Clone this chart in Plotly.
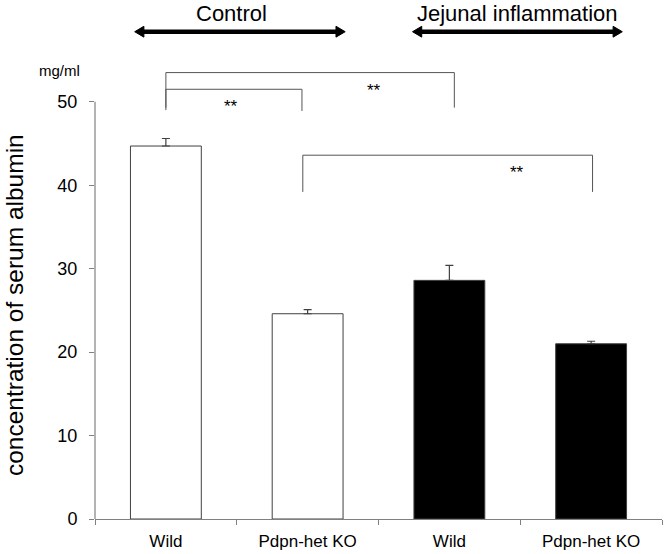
import plotly.graph_objects as go

# ---- data ----
categories = ["Wild", "Pdpn-het KO", "Wild", "Pdpn-het KO"]
values = [44.7, 24.6, 28.6, 21.0]
errors = [0.9, 0.5, 1.8, 0.3]
fill_colors = ["white", "white", "black", "black"]
y_ticks = [0, 10, 20, 30, 40, 50]

# significance brackets: (x_left, x_right, y_top, y_drop_left, y_drop_right, label_x, label_y)
brackets = [
    (0.0, 0.96, 51.5, 49.0, 48.9, 0.46, 49.4),
    (0.0, 2.035, 53.5, 49.3, 49.3, 1.47, 51.4),
    (0.966, 3.01, 43.6, 39.2, 39.2, 2.48, 41.5),
]
sig_label = "**"

# group headers: (text, x_left, x_right, text_x)
groups = [
    ("Control", -0.22, 1.265, 0.466),
    ("Jejunal inflammation", 1.74, 3.22, 2.48),
]
header_arrow_y = 58.4
header_text_y = 60.6

FONT = "Arial, Liberation Sans, sans-serif"
AX_COLOR = "#808080"
Y_TOP = 62.2

x_pos = list(range(len(categories)))

fig = go.Figure()
fig.add_trace(go.Bar(
    x=x_pos, y=values, width=0.5,
    marker=dict(color=fill_colors, line=dict(color="#404040", width=1)),
    error_y=dict(type="data", symmetric=False, array=errors,
                 arrayminus=[0] * len(errors), color="#404040",
                 thickness=1.2, width=4),
    showlegend=False,
))

shapes = []
annotations = []
for (xl, xr, yt, ydl, ydr, lx, ly) in brackets:
    shapes.append(dict(type="path", xref="x", yref="y",
                       path=f"M {xl} {ydl} L {xl} {yt} L {xr} {yt} L {xr} {ydr}",
                       line=dict(color="#555555", width=1)))
    annotations.append(dict(x=lx, y=ly, xref="x", yref="y", text=sig_label,
                            showarrow=False, xanchor="center", yanchor="middle",
                            font=dict(family=FONT, size=17, color="black")))

# header double arrows
head_len = 0.065   # in category units (~9px)
head_half = 0.65   # in y units (~5px)
for (txt, xl, xr, tx) in groups:
    shapes.append(dict(type="line", xref="x", yref="y",
                       x0=xl + head_len * 0.8, x1=xr - head_len * 0.8,
                       y0=header_arrow_y, y1=header_arrow_y,
                       line=dict(color="black", width=4.5)))
    shapes.append(dict(type="path", xref="x", yref="y",
                       path=(f"M {xl} {header_arrow_y} L {xl + head_len} {header_arrow_y + head_half} "
                             f"L {xl + head_len} {header_arrow_y - head_half} Z"),
                       fillcolor="black", line=dict(color="black", width=1)))
    shapes.append(dict(type="path", xref="x", yref="y",
                       path=(f"M {xr} {header_arrow_y} L {xr - head_len} {header_arrow_y + head_half} "
                             f"L {xr - head_len} {header_arrow_y - head_half} Z"),
                       fillcolor="black", line=dict(color="black", width=1)))
    annotations.append(dict(x=tx, y=header_text_y, xref="x", yref="y", text=txt,
                            showarrow=False, xanchor="center", yanchor="middle",
                            font=dict(family=FONT, size=22, color="black")))

# y axis line only from 0 to 50
shapes.append(dict(type="line", xref="paper", yref="y", x0=0, x1=0,
                   y0=y_ticks[0], y1=y_ticks[-1], line=dict(color=AX_COLOR, width=1.2)))

annotations.append(dict(x=-0.062, y=0.865, xref="paper", yref="paper", text="mg/ml",
                        showarrow=False, xanchor="center", yanchor="middle",
                        font=dict(family=FONT, size=15, color="black")))
annotations.append(dict(x=-0.143, y=0.412, xref="paper", yref="paper",
                        text="concentration of serum albumin", textangle=-90,
                        showarrow=False, xanchor="center", yanchor="middle",
                        font=dict(family=FONT, size=24.5, color="black")))

fig.update_layout(
    width=665, height=554,
    margin=dict(l=95, r=3, t=0, b=35),
    plot_bgcolor="white", paper_bgcolor="white",
    shapes=shapes, annotations=annotations,
    font=dict(family=FONT, color="black"),
    bargap=0.5,
)
fig.update_xaxes(
    range=[-0.5, len(categories) - 0.5],
    tickvals=x_pos, ticktext=categories, ticks="",
    tickfont=dict(family=FONT, size=17, color="black"),
    ticklabelstandoff=6,
    showline=True, linecolor=AX_COLOR, linewidth=1.2,
    showgrid=False, zeroline=False,
    minor=dict(tickmode="linear", tick0=-0.5, dtick=1, ticks="outside",
               ticklen=5, tickcolor=AX_COLOR, tickwidth=1),
)
fig.update_yaxes(
    range=[0, Y_TOP], tickvals=y_ticks, ticks="outside", ticklen=5,
    tickcolor=AX_COLOR, tickwidth=1,
    tickfont=dict(family=FONT, size=18, color="black"),
    ticklabelstandoff=8,
    showline=False, showgrid=False, zeroline=False,
)

fig.write_html("out.html")
